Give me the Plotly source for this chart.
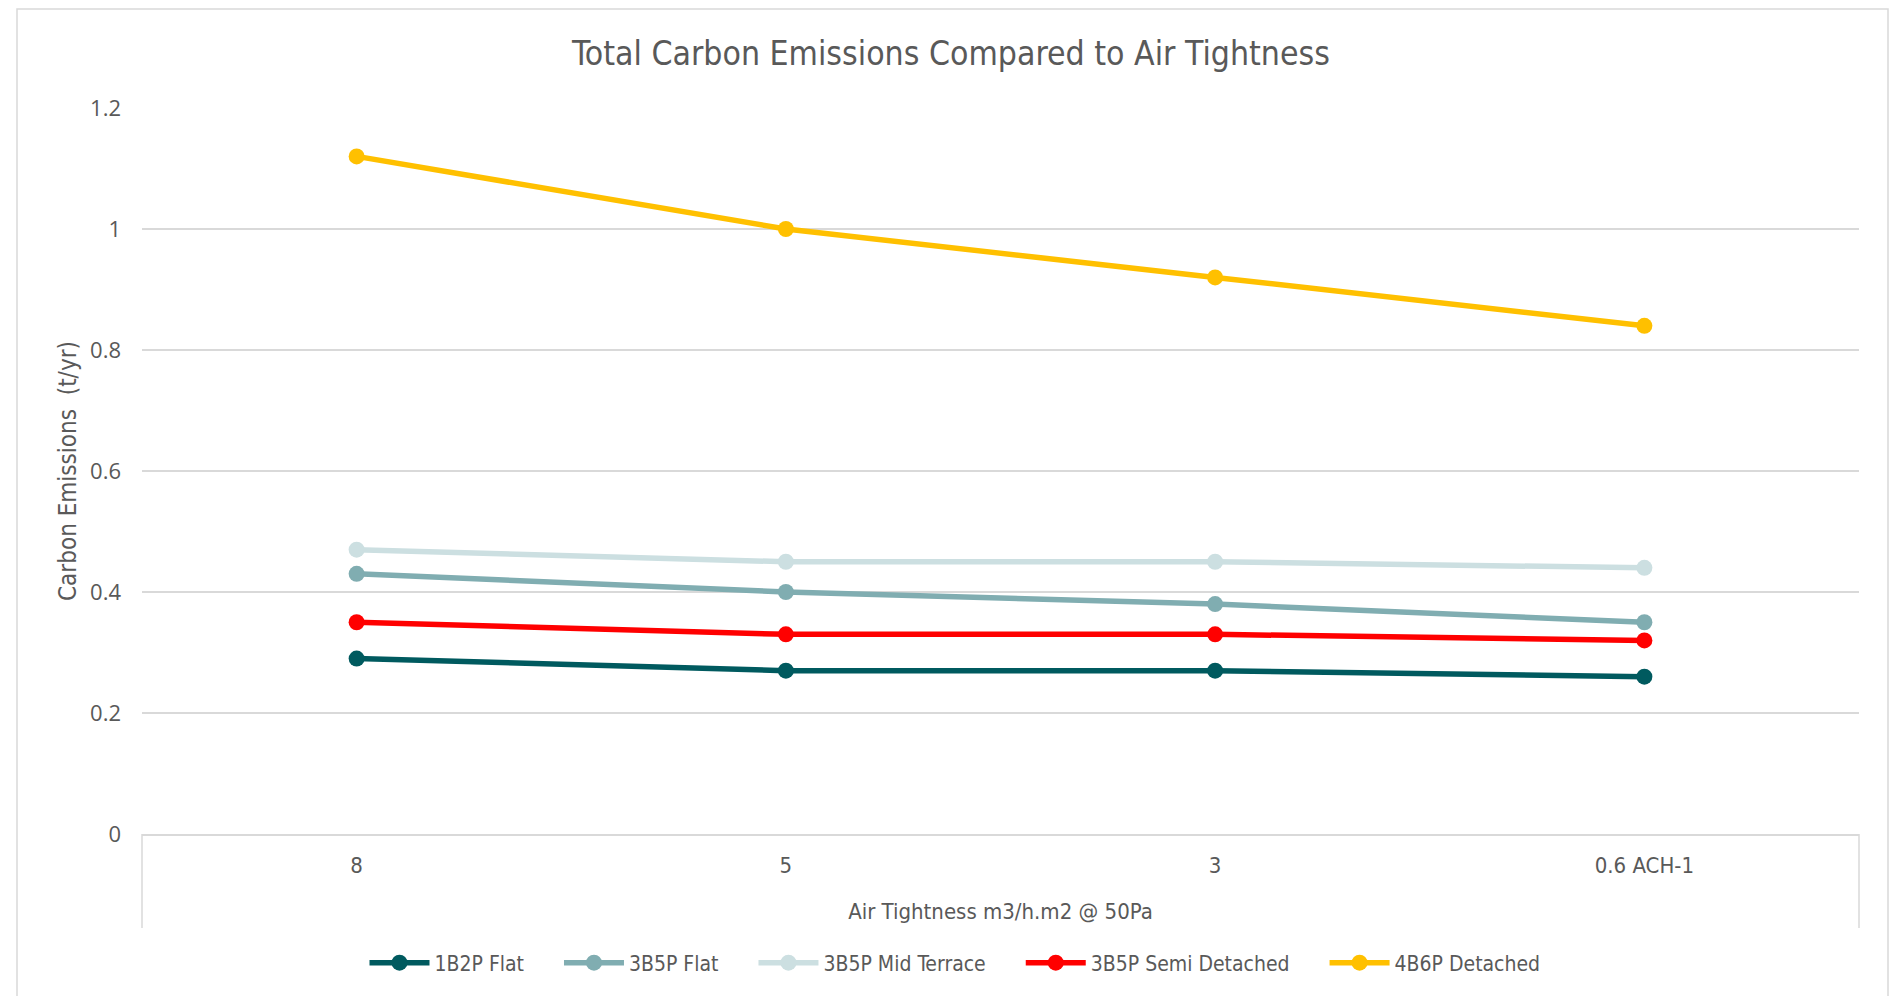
import plotly.graph_objects as go

categories = ["8", "5", "3", "0.6 ACH-1"]
series_names = ["1B2P Flat", "3B5P Flat", "3B5P Mid Terrace", "3B5P Semi Detached", "4B6P Detached"]
flat_1b2p = [0.29, 0.27, 0.27, 0.26]
flat_3b5p = [0.43, 0.40, 0.38, 0.35]
mid_terrace_3b5p = [0.47, 0.45, 0.45, 0.44]
semi_detached_3b5p = [0.35, 0.33, 0.33, 0.32]
detached_4b6p = [1.12, 1.00, 0.92, 0.84]
y_ticks = [0, 0.2, 0.4, 0.6, 0.8, 1, 1.2]
colors = ["#005A5F", "#80ADB1", "#CCDFE1", "#FF0000", "#FFC000"]

series_values = [flat_1b2p, flat_3b5p, mid_terrace_3b5p, semi_detached_3b5p, detached_4b6p]

NARROW = "Liberation Sans Narrow, DejaVu Sans Condensed, Arial Narrow, sans-serif"
TICK = "Open Sans, Noto Sans, sans-serif"
GREY = "#595959"
PAD = "\u00a0" * 5

fig = go.Figure()
n = len(series_names)
for i, (name, vals, col) in enumerate(zip(series_names, series_values, colors)):
    fig.add_trace(go.Scatter(
        x=categories, y=vals, name=name + (PAD if i < n - 1 else ""),
        mode="lines+markers",
        line=dict(color=col, width=5.5),
        marker=dict(color=col, size=16, symbol="circle"),
    ))

# page offset of the plot div (body margin)
OFF = 8
W, H = 1901 - OFF, 996 - OFF
P_L, P_R, P_T, P_B = 142, 1859, 108, 834
L, R, T, B = P_L - OFF, W - (P_R - OFF), P_T - OFF, H - (P_B - OFF)
pw, ph = W - L - R, H - T - B

def px_x(x):
    return (x - P_L) / pw

def px_y(y):
    return (P_B - y) / ph

shapes = [
    dict(type="rect", xref="paper", yref="paper",
         x0=px_x(17), x1=px_x(1888), y0=px_y(1010), y1=px_y(9),
         line=dict(color="#D9D9D9", width=1.5), fillcolor="rgba(0,0,0,0)", layer="below"),
    dict(type="line", xref="paper", yref="paper", x0=0, x1=0, y0=0, y1=px_y(928),
         line=dict(color="#D9D9D9", width=1.5)),
    dict(type="line", xref="paper", yref="paper", x0=1, x1=1, y0=0, y1=px_y(928),
         line=dict(color="#D9D9D9", width=1.5)),
]

fig.update_layout(
    width=W, height=H,
    margin=dict(l=L, r=R, t=T, b=B, autoexpand=False),
    paper_bgcolor="white", plot_bgcolor="white",
    title=dict(text="Total Carbon Emissions Compared to Air Tightness",
               x=(951 - OFF) / W, xanchor="center", y=1 - (53 - OFF) / H, yanchor="middle",
               font=dict(family=NARROW, size=33.5, color=GREY)),
    xaxis=dict(
        type="category", range=[-0.5, 3.5], showgrid=False,
        showline=True, linecolor="#D9D9D9", linewidth=2,
        ticks="", tickfont=dict(family=NARROW, size=22, color=GREY),
        ticklabelstandoff=11,
        title=dict(text="Air Tightness m3/h.m2 @ 50Pa", standoff=26,
                   font=dict(family=NARROW, size=22, color=GREY)),
    ),
    yaxis=dict(
        range=[0, 1.2], tickvals=y_ticks, ticktext=[str(v) for v in y_ticks],
        showgrid=True, gridcolor="#D9D9D9", gridwidth=1.5,
        zeroline=False, showline=False, ticks="",
        tickfont=dict(family=TICK, size=22, color=GREY),
        ticklabelstandoff=20,
        title=dict(text="Carbon Emissions  (t/yr)", standoff=6,
                   font=dict(family=NARROW, size=24, color=GREY)),
    ),
    legend=dict(orientation="h", x=px_x(955), xanchor="center",
                y=px_y(963), yanchor="middle",
                font=dict(family=NARROW, size=21, color=GREY),
                itemwidth=60, bgcolor="rgba(0,0,0,0)"),
    shapes=shapes,
    showlegend=True,
)

fig.write_html("out.html")
